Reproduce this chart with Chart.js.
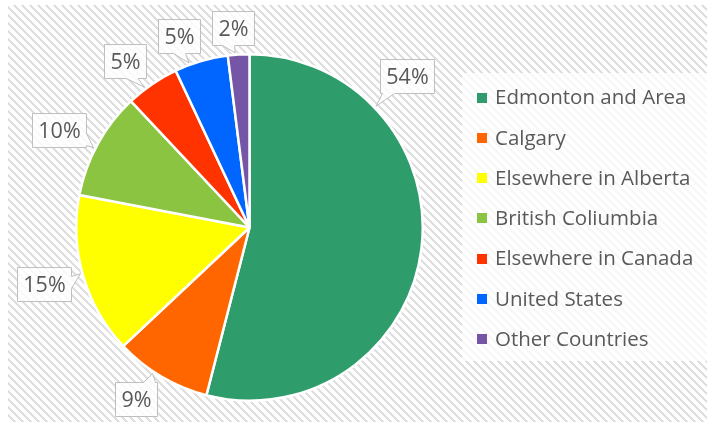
<!DOCTYPE html>
<html>
<head>
<meta charset="utf-8">
<script src="https://cdn.jsdelivr.net/npm/chart.js@4"></script>
<style>
    html, body { margin: 0; padding: 0; background: #ffffff; }
    #wrap { width: 707px; height: 427px; }
</style>
</head>
<body>
<div id="wrap"><canvas id="originChart" width="707" height="427"></canvas></div>
<script>
const categories  = ["Edmonton and Area", "Calgary", "Elsewhere in Alberta", "British Coliumbia", "Elsewhere in Canada", "United States", "Other Countries"];
const shares      = [54, 9, 15, 10, 5, 5, 2];
const sliceColors = ["#2E9D6B", "#FF6600", "#FFFF00", "#8BC441", "#FF3300", "#0066FF", "#7556A6"];

const TEXT_COLOR = "#595959";
const FONT = "'Open Sans', 'DejaVu Sans', sans-serif";

// Hatched chart background + the white panel behind the legend
const backdrop = {
    id: "backdrop",
    beforeDraw(chart){
        const ctx = chart.ctx;
        const tile = document.createElement("canvas");
        tile.width = 8; tile.height = 8;
        const t = tile.getContext("2d");
        t.fillStyle = "#ffffff";
        t.fillRect(0, 0, 8, 8);
        t.fillStyle = "#dfdfdf";
        for(let y = 0; y < 8; y++){
            for(let x = 0; x < 8; x++){
                if((((x - y) % 8) + 8) % 8 < 3) t.fillRect(x, y, 1, 1);
            }
        }
        ctx.save();
        ctx.fillStyle = "#ffffff";
        ctx.fillRect(0, 0, chart.width, chart.height);
        ctx.fillStyle = ctx.createPattern(tile, "repeat");
        ctx.fillRect(8, 5, chart.width - 8, chart.height - 10);
        ctx.fillStyle = "rgba(255,255,255,0.75)";
        ctx.fillRect(462, 73, chart.width - 462, 288);
        ctx.restore();
    }
};

function calloutPath(ctx, L, T, R, B, tx, ty){
    const cx = (L + R) / 2, cy = (T + B) / 2, hw = (R - L) / 2, hh = (B - T) / 2;
    const dx = tx - cx, dy = ty - cy;
    const base = 12;
    const clamp = (v, a, b) => Math.max(a, Math.min(b, v));
    let side;
    if(Math.abs(dx) * hh > Math.abs(dy) * hw) side = dx > 0 ? "right" : "left";
    else side = dy > 0 ? "bottom" : "top";

    ctx.beginPath();
    ctx.moveTo(L, T);
    if(side === "top"){
        const px = clamp(cx + dx * hh / Math.abs(dy), L + 2, R - 2 - base);
        ctx.lineTo(px, T); ctx.lineTo(tx, ty); ctx.lineTo(px + base, T);
    }
    ctx.lineTo(R, T);
    if(side === "right"){
        const py = clamp(cy + dy * hw / Math.abs(dx), T + 2, B - 2 - base);
        ctx.lineTo(R, py); ctx.lineTo(tx, ty); ctx.lineTo(R, py + base);
    }
    ctx.lineTo(R, B);
    if(side === "bottom"){
        const px = clamp(cx + dx * hh / Math.abs(dy), L + 2 + base, R - 2);
        ctx.lineTo(px, B); ctx.lineTo(tx, ty); ctx.lineTo(px - base, B);
    }
    ctx.lineTo(L, B);
    if(side === "left"){
        const py = clamp(cy + dy * hw / Math.abs(dx), T + 2 + base, B - 2);
        ctx.lineTo(L, py); ctx.lineTo(tx, ty); ctx.lineTo(L, py - base);
    }
    ctx.closePath();
}

// Percentage callouts placed around each arc (small per-label nudges, like Excel's best fit)
const callouts = {
    id: "callouts",
    afterDatasetsDraw(chart, args, opts){
        const ctx = chart.ctx;
        const meta = chart.getDatasetMeta(0);
        ctx.save();
        ctx.font = opts.font;
        ctx.textAlign = "center";
        ctx.textBaseline = "middle";
        meta.data.forEach((arc, i) => {
            const p = arc.getProps(["x", "y", "startAngle", "endAngle", "outerRadius"], true);
            const ang = (p.startAngle + p.endAngle) / 2 + (opts.shift[i] || 0) * Math.PI / 180;
            const cos = Math.cos(ang), sin = Math.sin(ang);
            const text = shares[i] + "%";
            const w = Math.round(ctx.measureText(text).width + 12), h = 34;
            const ext = Math.min(w / 2 / Math.max(Math.abs(cos), 1e-6), h / 2 / Math.max(Math.abs(sin), 1e-6));
            const d = p.outerRadius + ext + opts.gap + (opts.extraGap[i] || 0);
            const cx = p.x + cos * d, cy = p.y + sin * d;
            const L = Math.round(cx - w / 2) + 0.5, T = Math.round(cy - h / 2) + 0.5;
            const tx = p.x + cos * (p.outerRadius + 2), ty = p.y + sin * (p.outerRadius + 2);

            calloutPath(ctx, L, T, L + w, T + h, tx, ty);
            ctx.fillStyle = "rgba(255,255,255,0.82)";
            ctx.fill();
            ctx.strokeStyle = "#bfbfbf";
            ctx.lineWidth = 1;
            ctx.stroke();

            ctx.fillStyle = TEXT_COLOR;
            ctx.fillText(text, L + w / 2, T + h / 2 + 1);
        });
        ctx.restore();
    }
};

// Legend on the right, one row per category
const sideLegend = {
    id: "sideLegend",
    afterDraw(chart, args, opts){
        const ctx = chart.ctx;
        const colors = chart.data.datasets[0].backgroundColor;
        ctx.save();
        ctx.font = opts.font;
        ctx.textBaseline = "middle";
        chart.data.labels.forEach((label, i) => {
            const y = opts.top + i * opts.step;
            ctx.fillStyle = colors[i];
            ctx.fillRect(opts.left, Math.round(y - 5), 10, 10);
            ctx.fillStyle = TEXT_COLOR;
            ctx.fillText(label, opts.left + 18, y + 1);
        });
        ctx.restore();
    }
};

const ctx = document.getElementById("originChart");

new Chart(ctx, {
    type: "pie",
    data: {
        labels: categories,
        datasets: [{
            data: shares,
            backgroundColor: sliceColors,
            borderColor: "#ffffff",
            borderWidth: 2.5
        }]
    },
    options: {
        responsive: false,
        animation: false,
        layout: {
            padding: { left: 75, top: 53, right: 283, bottom: 25 }
        },
        plugins: {
            legend:  { display: false },
            tooltip: { enabled: false },
            callouts: {
                font: "21.5px " + FONT,
                gap: 12,
                shift: { 0: -51, 1: 3, 2: 0.9, 3: -1.7, 4: -2.6, 5: -4, 6: -1.1 },
                extraGap: { 0: 9, 4: 2, 5: 1, 6: -2, 3: -2 }
            },
            sideLegend: {
                font: "20.5px " + FONT,
                left: 477,
                top: 97.5,
                step: 40.25
            }
        }
    },
    plugins: [backdrop, callouts, sideLegend]
});
</script>
</body>
</html>
